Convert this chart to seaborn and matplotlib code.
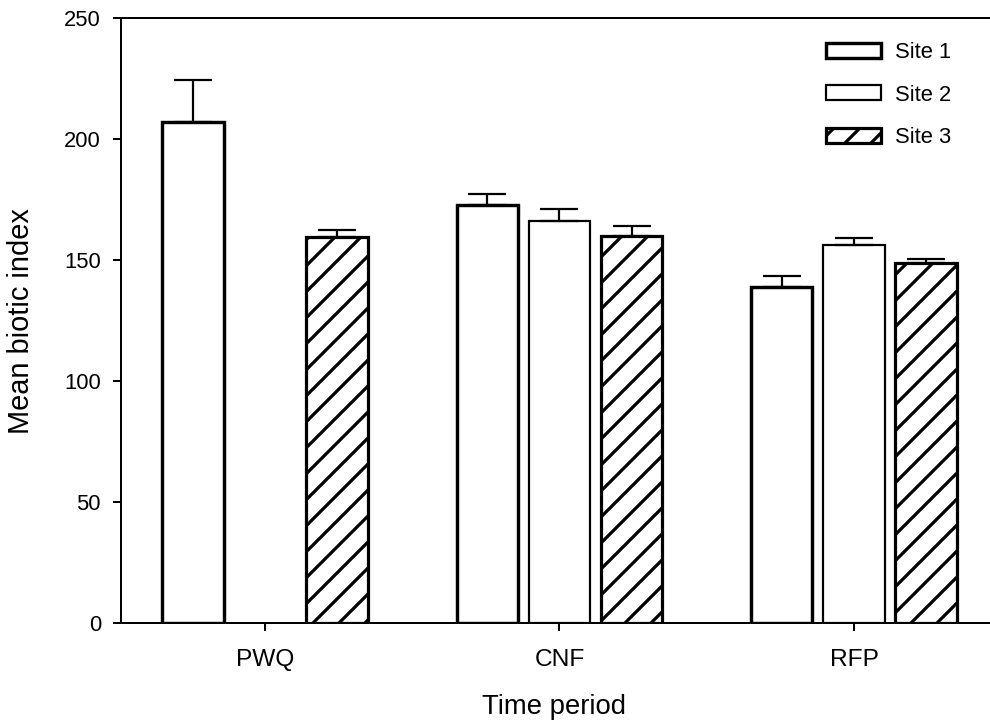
import numpy as np
import pandas as pd
import matplotlib
matplotlib.use("Agg")
import matplotlib.pyplot as plt
import seaborn as sns

# ---- data ----
periods = ["PWQ", "CNF", "RFP"]
sites = ["Site 1", "Site 2", "Site 3"]
site1_mean = [207.0, 172.7, 139.0]
site1_err = [17.5, 4.6, 4.4]
site2_mean = [np.nan, 166.3, 156.0]
site2_err = [np.nan, 4.7, 3.1]
site3_mean = [159.6, 159.9, 148.6]
site3_err = [2.9, 4.3, 1.8]
y_ticks = [0, 50, 100, 150, 200, 250]

means = {"Site 1": site1_mean, "Site 2": site2_mean, "Site 3": site3_mean}
errs = {"Site 1": site1_err, "Site 2": site2_err, "Site 3": site3_err}

rows = []
for s in sites:
    for p, m in zip(periods, means[s]):
        if not np.isnan(m):
            rows.append({"Time period": p, "Mean biotic index": m, "Site": s})
df = pd.DataFrame(rows)

# ---- figure setup ----
DPI = 156
W, H = 990, 725


def px(v):
    return v * 72.0 / DPI


sns.set_style("white")
plt.rcParams["font.family"] = ["Liberation Sans", "DejaVu Sans"]
plt.rcParams["hatch.linewidth"] = px(3.2)
plt.rcParams["hatch.color"] = "black"

fig = plt.figure(figsize=(W / DPI + 1e-4, H / DPI + 1e-4), dpi=DPI)
ax = fig.add_axes([121 / W, 1 - 623 / H, (990 - 121) / W, (623 - 18) / H])

sns.barplot(data=df, x="Time period", y="Mean biotic index", hue="Site",
            order=periods, hue_order=sites, palette=["white"] * 3,
            edgecolor="black", width=0.735, gap=0.15, errorbar=None,
            legend=False, ax=ax, saturation=1)

edge_lw = {"Site 1": px(3.4), "Site 2": px(2.2), "Site 3": px(3.2)}
hatches = {"Site 1": None, "Site 2": None, "Site 3": "//"}

for s, cont in zip(sites, ax.containers):
    for patch in cont:
        patch.set_linewidth(edge_lw[s])
        patch.set_edgecolor("black")
        patch.set_facecolor("white")
        if hatches[s]:
            patch.set_hatch(hatches[s])
        # upper error bar
        xc = patch.get_x() + patch.get_width() / 2
        gi = int(round(xc))
        e = errs[s][gi]
        top = patch.get_height()
        ax.errorbar([xc], [top], yerr=[[0], [e]], fmt="none", ecolor="black",
                    elinewidth=px(2.2), capsize=px(19), capthick=px(2.2),
                    zorder=1)

ax.set_xlim(-0.489, 2.462)
ax.set_ylim(0, 250)
ax.set_yticks(y_ticks)

for side in ["left", "top", "bottom"]:
    ax.spines[side].set_visible(True)
    ax.spines[side].set_color("black")
    ax.spines[side].set_linewidth(px(2.0))
ax.spines["right"].set_visible(False)

ax.tick_params(axis="both", which="major", direction="out", length=px(8),
               width=px(2), color="black", labelcolor="black")
ax.tick_params(axis="x", pad=px(18), bottom=True, labelsize=px(24.5))
ax.tick_params(axis="y", pad=px(12), left=True, labelsize=px(22))

ax.set_xlabel("Time period", fontsize=px(27.5), color="black")
ax.set_ylabel("Mean biotic index", fontsize=px(29), color="black")
ax.xaxis.set_label_coords((554 - 121) / (990 - 121), (623 - 694) / (623 - 18))
ax.yaxis.set_label_coords((35 - 121) / (990 - 121), (623 - 321) / (623 - 18))

handles = [cont for cont in ax.containers]
leg = ax.legend(handles, sites, loc="upper left",
                bbox_to_anchor=(826 / W, 1 - 42 / H),
                bbox_transform=fig.transFigure, frameon=False,
                fontsize=px(22), handlelength=2.5, handleheight=0.68,
                handletextpad=0.65, labelspacing=0.98, borderpad=0,
                borderaxespad=0)
for t in leg.get_texts():
    t.set_color("black")

fig.savefig("out.png", dpi=DPI)
